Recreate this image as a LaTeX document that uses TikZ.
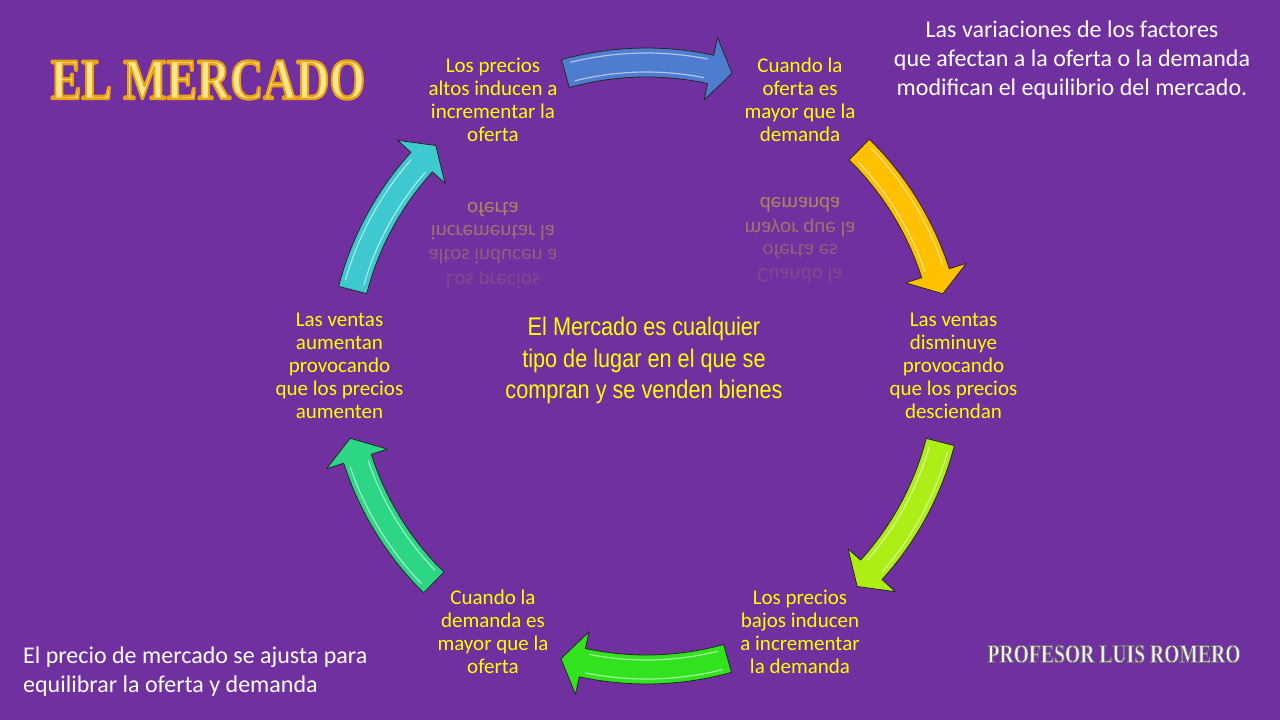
\documentclass[tikz,border=0pt]{standalone}
\usepackage{fontspec}
\setmainfont{Carlito}
\newfontfamily\narrowfont[FakeStretch=0.85]{Liberation Sans}
\newfontfamily\titlefont{Liberation Serif}

\definecolor{fondo}{RGB}{112,48,160}
\definecolor{amarillo}{RGB}{255,255,0}
\definecolor{arrazul}{RGB}{78,124,206}
\definecolor{arroro}{RGB}{255,192,0}
\definecolor{arrlima}{RGB}{172,238,22}
\definecolor{arrverde}{RGB}{50,226,30}
\definecolor{arrjade}{RGB}{44,214,132}
\definecolor{arrcian}{RGB}{62,200,208}
\definecolor{titulofill}{RGB}{255,232,140}
\definecolor{firmafill}{RGB}{245,245,245}

% contorno del texto (modo de trazo del pdf)
\newcommand{\contorno}[2]{\special{pdf:literal direct 2 Tr #1 w}#2\special{pdf:literal direct 0 Tr}}

\begin{document}
\begin{tikzpicture}[x=1pt, y=1pt, line join=round,
    lema/.style={text=amarillo, align=center, font=\fontsize{21}{23}\selectfont},
    reflejo/.style={text=amarillo, inner sep=0pt, font=\fontsize{21}{23}\selectfont},
    flecha/.style={draw=black!85, line width=0.8pt},
    brillo/.style={white, line width=1.2pt, opacity=0.55, line cap=round},
    nota/.style={text=white, inner sep=0pt, font=\fontsize{24}{29}\selectfont},
    titulo/.style={inner sep=0pt, font=\titlefont\bfseries\fontsize{58}{58}\selectfont},
    firma/.style={inner sep=0pt, font=\titlefont\bfseries\fontsize{26}{26}\selectfont}]

    % Fondo
    \fill[fondo] (-646.5,-354) rectangle (633.5,366);
    \useasboundingbox (-646.5,-354) rectangle (633.5,366);

    % Flechas del ciclo
    \foreach \c/\col in {90/arrazul, 30/arroro, -30/arrlima, -90/arrverde, -150/arrjade, 150/arrcian}{
        \pgfmathsetmacro\ta{\c+15.5}
        \pgfmathsetmacro\tb{\c-12.2}
        \pgfmathsetmacro\tc{\c-16.3}
        \filldraw[flecha, fill=\col]
            (\ta:318pt) arc[start angle=\ta, end angle=\tb, radius=318pt]
            -- (\tb:336pt) -- (\tc:305pt) -- (\tb:272pt) -- (\tb:289pt)
            arc[start angle=\tb, end angle=\ta, radius=289pt] -- cycle;
        \pgfmathsetmacro\ga{\ta-1.5}
        \pgfmathsetmacro\gb{\tb+1}
        \draw[brillo] (\ga:313pt) arc[start angle=\ga, end angle=\gb, radius=313pt];
        \draw[brillo] (\ga:294pt) arc[start angle=\ga, end angle=\gb, radius=294pt];
    }

    % Textos del ciclo
    \node[lema] (altos) at (120:307pt) {Los precios\\altos inducen a\\incrementar la\\oferta};
    \node[lema] (ofmayor) at (60:307pt) {Cuando la\\oferta es\\mayor que la\\demanda};
    \node[lema] (ventasdis) at (0:307pt) {Las ventas\\disminuye\\provocando\\que los precios\\desciendan};
    \node[lema] (bajos) at (-60:307pt) {Los precios\\bajos inducen\\a incrementar\\la demanda};
    \node[lema] (demmayor) at (-120:307pt) {Cuando la\\demanda es\\mayor que la\\oferta};
    \node[lema] (ventasaum) at (180:307pt) {Las ventas\\aumentan\\provocando\\que los precios\\aumenten};

    % Reflejos
    \foreach \t/\y/\o [count=\i] in {oferta/156/0.42, incrementar la/133/0.32, altos inducen a/109/0.22, Los precios/86/0.12}
        \node[reflejo, opacity=\o] (ecoaltos\i) at (-153.5,\y) {\scalebox{1}[-1]{\t}};
    \foreach \t/\y/\o [count=\i] in {demanda/161/0.42, mayor que la/138/0.32, oferta es/114/0.22, Cuando la/90/0.12}
        \node[reflejo, opacity=\o] (ecoofmayor\i) at (153.5,\y) {\scalebox{1}[-1]{\t}};

    % Definicion central
    \node[text=amarillo, align=center, font=\narrowfont\fontsize{25.5}{31.5}\selectfont] (definicion) at (-2.5,5.5)
        {El Mercado es cualquier\\tipo de lugar en el que se\\compran y se venden bienes};

    % Notas
    \node[nota, align=center] (variaciones) at (425.5,306)
        {Las variaciones de los factores\\que afectan a la oferta o la demanda\\modifican el equilibrio del mercado.};
    \node[nota, align=left, anchor=west] (ajuste) at (-623.5,-305.5)
        {El precio de mercado se ajusta para\\equilibrar la oferta y demanda};

    % Titulo
    \node[titulo, text=titulofill] (titulo) at (-438.5,286)
        {\scalebox{0.79}[1]{\contorno{2.4}{\special{pdf:literal direct 0.925 0.635 0.07 RG}EL MERCADO}}};

    % Firma
    \node[firma, text=firmafill] (firma) at (467.5,-288)
        {\scalebox{0.755}[1]{\contorno{0.9}{\special{pdf:literal direct 0.45 0.45 0.45 RG}PROFESOR LUIS ROMERO}}};

\end{tikzpicture}
\end{document}
